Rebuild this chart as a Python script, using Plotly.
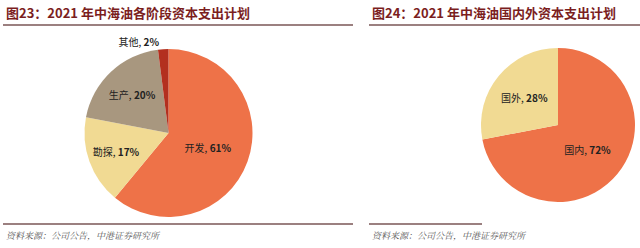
import plotly.graph_objects as go

# Data
stage_labels = ["开发", "勘探", "生产", "其他"]
stage_values = [61, 17, 20, 2]
stage_colors = ["#EE7248", "#F1DA93", "#A8977F", "#B3301F"]

region_labels = ["国内", "国外"]
region_values = [72, 28]
region_colors = ["#EE7248", "#F1DA93"]

title_left = "图23：2021 年中海油各阶段资本支出计划"
title_right = "图24：2021 年中海油国内外资本支出计划"
source_text = "资料来源：公司公告，中港证券研究所"

W, H = 640, 248
label_font = dict(family="Noto Sans CJK SC", size=10, color="#222222")

fig = go.Figure()
fig.add_trace(go.Pie(
    labels=stage_labels, values=stage_values, sort=False,
    direction="clockwise", rotation=0,
    marker=dict(colors=stage_colors, line=dict(width=0)),
    texttemplate="%{label}, <b>%{value}%</b>",
    textposition=["inside", "inside", "inside", "outside"],
    insidetextorientation="horizontal",
    textfont=label_font, outsidetextfont=label_font,
    showlegend=False, hoverinfo="skip",
    domain=dict(x=[84 / W, 253 / W], y=[1 - 217 / H, 1 - 49 / H]),
))
fig.add_trace(go.Pie(
    labels=region_labels, values=region_values, sort=False,
    direction="clockwise", rotation=0,
    marker=dict(colors=region_colors, line=dict(width=0)),
    texttemplate="%{label}, <b>%{value}%</b>",
    textposition="inside",
    insidetextorientation="horizontal",
    textfont=label_font,
    showlegend=False, hoverinfo="skip",
    domain=dict(x=[481 / W, 635 / W], y=[1 - 202 / H, 1 - 48 / H]),
))

line_color = "#7a5656"
shapes = []
for (x0, x1, y) in [(3, 353, 25), (369, 640, 25), (3, 353, 224), (369, 482, 224)]:
    shapes.append(dict(type="line", xref="paper", yref="paper",
                       x0=x0 / W, x1=x1 / W, y0=1 - y / H, y1=1 - y / H,
                       line=dict(color=line_color, width=1.5)))

title_font = dict(family="Noto Sans CJK SC", size=13, color="#7B1E1E")
src_font = dict(family="Noto Serif CJK SC, Noto Sans CJK SC", size=9, color="#555555")
annotations = [
    dict(text="<b>" + title_left + "</b>", x=4 / W, y=1 - 13 / H, xref="paper", yref="paper",
         xanchor="left", yanchor="middle", showarrow=False, font=title_font),
    dict(text="<b>" + title_right + "</b>", x=370 / W, y=1 - 13 / H, xref="paper", yref="paper",
         xanchor="left", yanchor="middle", showarrow=False, font=title_font),
    dict(text="<i>" + source_text + "</i>", x=4 / W, y=1 - 235 / H, xref="paper", yref="paper",
         xanchor="left", yanchor="middle", showarrow=False, font=src_font),
    dict(text="<i>" + source_text + "</i>", x=370 / W, y=1 - 235 / H, xref="paper", yref="paper",
         xanchor="left", yanchor="middle", showarrow=False, font=src_font),
]

fig.update_layout(
    width=W, height=H, margin=dict(l=0, r=0, t=0, b=0),
    paper_bgcolor="white", plot_bgcolor="white",
    shapes=shapes, annotations=annotations,
)
fig.write_html("out.html")
